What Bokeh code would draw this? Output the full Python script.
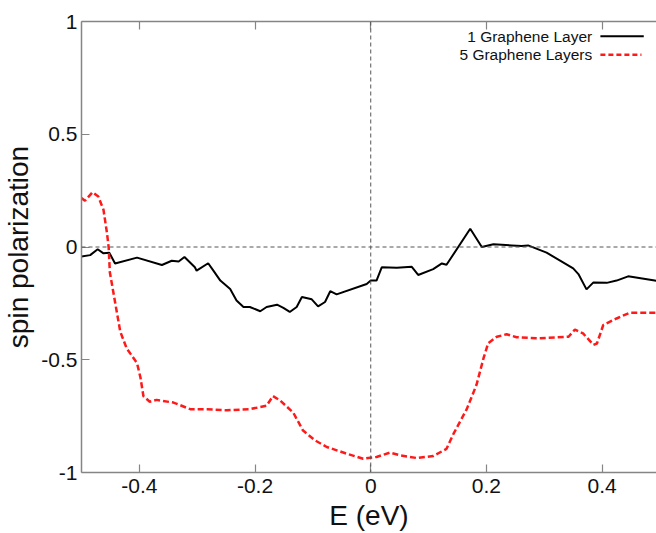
from bokeh.plotting import figure
from bokeh.models import LinearAxis, FixedTicker, Span, Range1d, ColumnDataSource
from bokeh.core.properties import value
from bokeh.embed import file_html
from bokeh.resources import INLINE

# 1 graphene layer
e1 = [-0.500, -0.485, -0.472, -0.462, -0.452, -0.442, -0.404, -0.361, -0.344, -0.332,
      -0.322, -0.304, -0.301, -0.281, -0.272, -0.260, -0.243, -0.232, -0.220, -0.209,
      -0.191, -0.180, -0.162, -0.151, -0.140, -0.128, -0.119, -0.102, -0.091, -0.079,
      -0.070, -0.059, -0.007, 0.000, 0.010, 0.019, 0.045, 0.071, 0.082, 0.108,
      0.123, 0.131, 0.172, 0.192, 0.212, 0.244, 0.261, 0.272, 0.304, 0.350,
      0.359, 0.373, 0.385, 0.408, 0.425, 0.445, 0.491, 0.500]
p1 = [-0.042, -0.036, -0.010, -0.028, -0.025, -0.073, -0.047, -0.080, -0.061, -0.064,
      -0.044, -0.090, -0.105, -0.072, -0.105, -0.149, -0.186, -0.237, -0.266, -0.266,
      -0.285, -0.266, -0.256, -0.270, -0.288, -0.266, -0.222, -0.232, -0.263, -0.244,
      -0.196, -0.210, -0.164, -0.149, -0.149, -0.090, -0.092, -0.088, -0.124, -0.098,
      -0.073, -0.079, 0.081, 0.000, 0.012, 0.007, 0.004, 0.007, -0.025, -0.095,
      -0.120, -0.188, -0.157, -0.159, -0.149, -0.130, -0.149, -0.153]

# 5 graphene layers
e5 = [-0.500, -0.494, -0.481, -0.471, -0.462, -0.456, -0.453, -0.451, -0.442, -0.433,
      -0.422, -0.404, -0.398, -0.393, -0.382, -0.370, -0.341, -0.327, -0.312, -0.283,
      -0.249, -0.209, -0.180, -0.169, -0.157, -0.134, -0.117, -0.096, -0.076, -0.070,
      -0.041, -0.013, 0.010, 0.033, 0.051, 0.080, 0.108, 0.131, 0.143, 0.166,
      0.183, 0.195, 0.203, 0.218, 0.235, 0.252, 0.287, 0.342, 0.353, 0.367,
      0.385, 0.391, 0.402, 0.425, 0.448, 0.493, 0.500]
p5 = [0.217, 0.205, 0.243, 0.224, 0.165, 0.063, -0.003, -0.112, -0.244, -0.375,
      -0.449, -0.515, -0.580, -0.661, -0.686, -0.678, -0.690, -0.704, -0.719, -0.719,
      -0.724, -0.719, -0.704, -0.661, -0.680, -0.734, -0.814, -0.858, -0.887, -0.892,
      -0.917, -0.939, -0.931, -0.912, -0.924, -0.936, -0.927, -0.895, -0.829, -0.719,
      -0.610, -0.493, -0.427, -0.398, -0.387, -0.400, -0.405, -0.398, -0.366, -0.383,
      -0.434, -0.428, -0.346, -0.317, -0.291, -0.292, -0.292]

x_ticks = [-0.4, -0.2, 0, 0.2, 0.4]
y_ticks = [-1, -0.5, 0, 0.5, 1]
x_labels = {-0.4: "-0.4", -0.2: "-0.2", 0: "0", 0.2: "0.2", 0.4: "0.4"}
y_labels = {-1: "-1", -0.5: "-0.5", 0: "0", 0.5: "0.5", 1: "1"}
legend_names = ["1 Graphene Layer", "5 Graphene Layers"]

FONT = "Liberation Sans"
AX = "#858585"

p = figure(width=656, height=533, output_backend="svg", toolbar_location=None,
           x_range=Range1d(-0.5, 0.494), y_range=Range1d(-1, 1),
           min_border_left=81, min_border_right=0, min_border_top=21, min_border_bottom=58)
p.background_fill_color = "white"
p.border_fill_color = "white"
p.outline_line_color = None
p.xgrid.visible = False
p.ygrid.visible = False

for ax in (p.xaxis[0], p.yaxis[0]):
    ax.axis_line_color = AX
    ax.axis_line_width = 1.5
    ax.major_tick_line_color = AX
    ax.major_tick_line_width = 1.2
    ax.major_tick_in = 8
    ax.major_tick_out = 0
    ax.minor_tick_line_color = None
    ax.major_label_text_font = FONT
    ax.major_label_text_font_size = "21px"
    ax.major_label_text_color = "#111111"
    ax.axis_label_text_font = FONT
    ax.axis_label_text_font_size = "28px"
    ax.axis_label_text_font_style = "normal"
    ax.axis_label_text_color = "#111111"

p.xaxis[0].ticker = FixedTicker(ticks=x_ticks)
p.xaxis[0].major_label_overrides = x_labels
p.xaxis[0].axis_label = "E (eV)"
p.xaxis[0].major_label_standoff = 6
p.xaxis[0].axis_label_standoff = 4

p.yaxis[0].ticker = FixedTicker(ticks=y_ticks)
p.yaxis[0].major_label_overrides = y_labels
p.yaxis[0].axis_label = "spin polarization"
p.yaxis[0].major_label_standoff = 4
p.yaxis[0].axis_label_standoff = 4

# top frame edge with inward ticks, no labels
top = LinearAxis(ticker=FixedTicker(ticks=x_ticks), axis_line_color=AX, axis_line_width=1.5,
                 major_tick_line_color=AX, major_tick_line_width=1.2,
                 major_tick_in=8, major_tick_out=0, minor_tick_line_color=None,
                 major_label_text_font_size="11px", major_label_standoff=0,
                 major_label_overrides={t: "" for t in x_ticks})
p.add_layout(top, "above")

p.add_layout(Span(location=0, dimension="width", line_color="#555555",
                  line_width=1, line_dash="4 3"))
p.add_layout(Span(location=0, dimension="height", line_color="#555555",
                  line_width=1, line_dash="4 3"))

p.line(e1, p1, line_color="black", line_width=2)
p.line(e5, p5, line_color="#ff1a1a", line_width=2.5, line_dash="6 3")

# legend (text right-aligned, sample line to the right)
leg = ColumnDataSource(dict(x=[0.3828, 0.3828], y=[0.935, 0.853], t=legend_names))
p.text(x="x", y="y", text="t", source=leg, text_align="right", text_baseline="middle",
       text_font=value(FONT), text_font_size="15.5px", text_color="#111111")
p.segment(x0=[0.397], y0=[0.935], x1=[0.472], y1=[0.935], line_color="black", line_width=2)
p.segment(x0=[0.397], y0=[0.853], x1=[0.468], y1=[0.853], line_color="#ff1a1a",
          line_width=2.5, line_dash="5 3")

open("out.html", "w").write(file_html(p, INLINE))
